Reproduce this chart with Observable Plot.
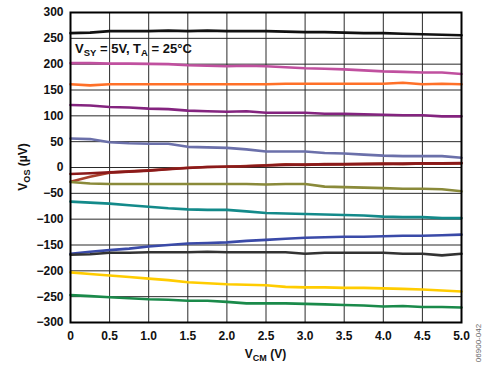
<!DOCTYPE html>
<html>
<head>
<meta charset="utf-8">
<script src="https://cdn.jsdelivr.net/npm/d3@7"></script>
<script src="https://cdn.jsdelivr.net/npm/@observablehq/plot@0.6"></script>
<style>
  html, body { margin: 0; padding: 0; background: #fff; }
  #chart { width: 493px; height: 368px; }
</style>
</head>
<body>
<div id="chart"></div>
<script>
// V_CM sample points (V)
const vcm = [0, 0.25, 0.5, 0.75, 1.0, 1.25, 1.5, 1.75, 2.0, 2.25, 2.5, 2.75, 3.0, 3.25, 3.5, 3.75, 4.0, 4.25, 4.5, 4.75, 5.0];

// V_OS (µV) for each unit
const unitBlack  = [260, 261, 264, 264, 264, 265, 264, 265, 264, 264, 264, 263, 262, 262, 261, 260, 260, 259, 258, 257, 256];
const unitPink   = [202, 202, 201, 201, 200.5, 200, 198, 197, 196, 197, 196, 194, 192, 191, 190, 188, 186, 185, 184, 184, 181];
const unitOrange = [161, 159, 161, 161, 161, 161, 161, 161, 161, 161, 161, 162, 162, 162, 162, 162, 162, 164, 161, 162, 161];
const unitPurple = [121, 120, 117, 116, 114, 113, 110, 109, 108, 109, 106, 106, 106, 104, 104, 103, 102, 101, 101, 99, 99];
const unitSlate  = [56, 55, 49, 47, 46, 46, 40, 39, 38, 35, 31, 31, 31, 28, 27, 25, 23, 22, 22, 22, 19];
const unitRust   = [-27.5, -18, -10, -7.5, -5.5, -3, -0.5, 1, 1.5, 3, 4.5, 6, 5, 6.5, 6, 7, 7.5, 6.5, 8, 7.5, 8];
const unitDkRed  = [-12.6, -11, -9.4, -8, -6, -3.5, -1, 1, 2, 2.5, 4, 5, 5.5, 6, 6.5, 6.5, 7, 7.5, 8, 8, 8.5];
const unitOlive  = [-28, -31, -32, -32, -32, -32, -32, -32, -32, -32, -33, -32, -32, -37, -38, -39, -40, -41, -41, -42, -46];
const unitTeal   = [-66, -68, -70, -73, -76, -79, -81, -82, -82, -85, -88, -89, -90, -91, -92, -93, -95, -96, -96, -98, -98];
const unitBlue   = [-167, -163, -160, -157, -153, -150, -147, -146, -145, -142, -140, -138, -136, -135, -134, -134, -133, -132, -132, -131, -130];
const unitGray   = [-169, -168, -165, -165, -164, -164, -164, -163, -164, -164, -164, -164, -167, -165, -165, -165, -165, -167, -167, -170, -167];
const unitYellow = [-203, -206, -209, -212, -215, -218, -222, -224, -226, -227, -228, -231, -232, -232, -233, -233, -234, -235, -236, -238, -240];
const unitGreen  = [-247, -249, -251, -253, -255, -256, -258, -258, -260, -263, -263, -263, -264, -265, -266, -267, -269, -268, -270, -270, -271];

const seriesNames  = ["black", "pink", "orange", "purple", "slate", "rust", "dkred", "olive", "teal", "blue", "gray", "yellow", "green"];
const seriesValues = [unitBlack, unitPink, unitOrange, unitPurple, unitSlate, unitRust, unitDkRed, unitOlive, unitTeal, unitBlue, unitGray, unitYellow, unitGreen];
const seriesColors = ["#111111", "#c0509f", "#ff7028", "#84247f", "#6b70aa", "#a8402c", "#8b1a1a", "#8a8a3a", "#138a8a", "#3a4aa8", "#333333", "#ffcc00", "#1a8a4a"];

const xTicks = [0, 0.5, 1.0, 1.5, 2.0, 2.5, 3.0, 3.5, 4.0, 4.5, 5.0];
const yTicks = [-300, -250, -200, -150, -100, -50, 0, 50, 100, 150, 200, 250, 300];

const rows = [];
seriesNames.forEach((s, k) => seriesValues[k].forEach((v, i) => rows.push({x: vcm[i], y: v, s})));

const font = "'Liberation Sans', Arial, sans-serif";

const plot = Plot.plot({
  width: 493,
  height: 368,
  marginLeft: 70,
  marginRight: 32,
  marginTop: 12,
  marginBottom: 46,
  style: {fontFamily: font, fontSize: "12px", background: "#fff", color: "#111"},
  x: {domain: [0, 5], label: null},
  y: {domain: [-300, 300], label: null},
  color: {domain: seriesNames, range: seriesColors},
  marks: [
    Plot.gridX(xTicks, {stroke: "#2a2a2a", strokeOpacity: 1, strokeWidth: 1}),
    Plot.gridY(yTicks, {stroke: "#2a2a2a", strokeOpacity: 1, strokeWidth: 1}),
    Plot.line(rows, {x: "x", y: "y", z: "s", stroke: "s", strokeWidth: 2.6, strokeLinejoin: "round", strokeLinecap: "round"}),
    Plot.frame({stroke: "#000", strokeWidth: 2}),
    Plot.axisX(xTicks, {tickSize: 0, tickPadding: 9, fontWeight: "bold", fontSize: 12,
      tickFormat: d => d === 0 ? "0" : d.toFixed(1), label: null}),
    Plot.axisY(yTicks, {tickSize: 0, tickPadding: 7, fontWeight: "bold", fontSize: 12, label: null})
  ]
});

const svg = d3.select(plot);
const sx = plot.scale("x"), sy = plot.scale("y");

// Annotation
const ann = svg.append("text")
  .attr("x", sx.apply(0) + 5).attr("y", sy.apply(230) + 5)
  .attr("text-anchor", "start")
  .attr("font-family", font).attr("font-weight", "bold").attr("font-size", 13).attr("fill", "#111");
ann.append("tspan").text("V");
ann.append("tspan").attr("font-size", 9.5).attr("dy", 3).text("SY");
ann.append("tspan").attr("dy", -3).text(" = 5V, T");
ann.append("tspan").attr("font-size", 9.5).attr("dy", 3).text("A");
ann.append("tspan").attr("dy", -3).text(" = 25°C");

// Y axis label
const yl = svg.append("text")
  .attr("transform", `translate(27,${(sy.apply(300) + sy.apply(-300)) / 2}) rotate(-90)`)
  .attr("text-anchor", "middle")
  .attr("font-family", font).attr("font-weight", "bold").attr("font-size", 12).attr("fill", "#111");
yl.append("tspan").text("V");
yl.append("tspan").attr("font-size", 9).attr("dy", 3).text("OS");
yl.append("tspan").attr("dy", -3).text(" (µV)");

// X axis label
const xl = svg.append("text")
  .attr("x", (sx.apply(0) + sx.apply(5)) / 2).attr("y", 358)
  .attr("text-anchor", "middle")
  .attr("font-family", font).attr("font-weight", "bold").attr("font-size", 12).attr("fill", "#111");
xl.append("tspan").text("V");
xl.append("tspan").attr("font-size", 9).attr("dy", 3).text("CM");
xl.append("tspan").attr("dy", -3).text(" (V)");

// Figure code
svg.append("text")
  .attr("transform", "translate(481,343) rotate(-90)")
  .attr("text-anchor", "middle")
  .attr("font-family", font).attr("font-size", 8).attr("fill", "#666")
  .text("06900-042");

document.getElementById("chart").appendChild(plot);
</script>
</body>
</html>
